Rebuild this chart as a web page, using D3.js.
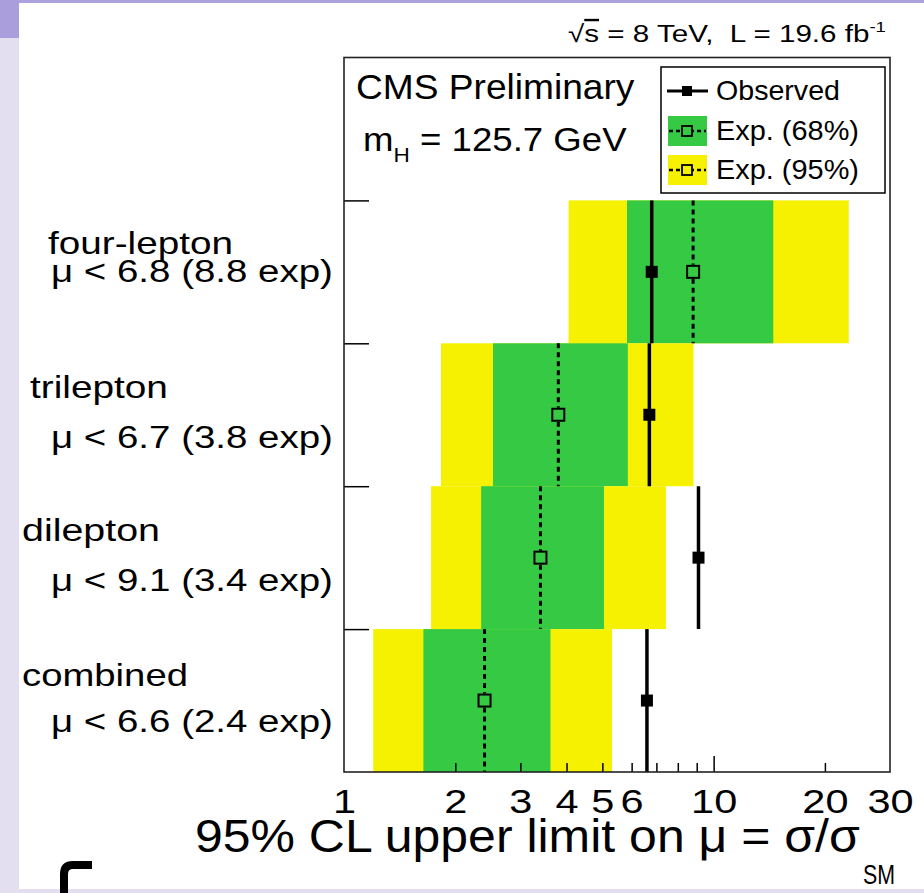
<!DOCTYPE html>
<html>
<head>
<meta charset="utf-8">
<script src="https://cdn.jsdelivr.net/npm/d3@7"></script>
<style>
  html, body { margin: 0; padding: 0; background: #e3dfef; overflow: hidden; }
  svg { display: block; }
</style>
</head>
<body>
<svg id="chart" width="924" height="893"></svg>
<script>
// ---- data ----
const channels  = ["four-lepton", "trilepton", "dilepton", "combined"];
const observed  = [6.8, 6.7, 9.1, 6.6];
const expected  = [8.8, 3.8, 3.4, 2.4];
const exp68Lo   = [5.83, 2.53, 2.35, 1.64];
const exp68Hi   = [14.5, 5.86, 5.05, 3.62];
const exp95Lo   = [4.05, 1.83, 1.72, 1.20];
const exp95Hi   = [23.2, 8.82, 7.43, 5.31];
const xMinorTicks = [2, 3, 4, 5, 6, 7, 8, 9, 20];
const xMajorTicks = [10];
const xTickLabels = [1, 2, 3, 4, 5, 6, 10, 20, 30];
const legendItems = ["Observed", "Exp. (68%)", "Exp. (95%)"];

// ---- layout / style ----
const W = 924, H = 893;
const FONT = "'Liberation Sans', Arial, Helvetica, sans-serif";
const GREEN = "#36c944", YELLOW = "#f6f100";
const frame = { left: 344, right: 890, top: 57.5, bottom: 772 };
// channel label placement: left edge and width of each line, dy from row centre
const nameX = [48, 30, 22, 22];
const nameW = [185, 138, 138, 166];
const nameDy = [-18, -17, -17, -15];
const limitX = 51, limitW = 282;
const limitDy = [10, 33, 33, 31];

const svg = d3.select("#chart");

// slide backdrop
svg.append("rect").attr("width", W).attr("height", H).attr("fill", "#e3dff0");
svg.append("rect").attr("width", W).attr("height", 3).attr("fill", "#ada1de");
svg.append("rect").attr("width", 19).attr("height", 38).attr("fill", "#aa9edc");
svg.append("rect").attr("x", 19).attr("y", 3).attr("width", W - 19).attr("height", 886).attr("fill", "#ffffff");
svg.append("path")
  .attr("d", "M64,893 L64,874 Q64,865 73,865 L92,865")
  .attr("fill", "none").attr("stroke", "#000").attr("stroke-width", 8);

// scales
const x = d3.scaleLog().domain([1, 30]).range([frame.left, frame.right]);
const y = d3.scaleLinear().domain([0, 5]).range([frame.bottom, frame.top]);
const rowOf = i => channels.length - 1 - i;

// text placed with its left edge at px and stretched horizontally to the given width
function fitText(parent, px, py, size, width, build) {
  const t = parent.append("text")
    .attr("font-family", FONT).attr("font-size", size).attr("fill", "#000")
    .attr("xml:space", "preserve");
  build(t);
  const w = t.node().getBBox().width;
  t.attr("transform", `translate(${px},${py}) scale(${width / w},1)`);
  return t;
}

const plot = svg.append("g");

// expected bands
channels.forEach((c, i) => {
  const r = rowOf(i);
  plot.append("rect")
    .attr("x", x(exp95Lo[i])).attr("width", x(exp95Hi[i]) - x(exp95Lo[i]))
    .attr("y", y(r + 1)).attr("height", y(r) - y(r + 1))
    .attr("fill", YELLOW);
  plot.append("rect")
    .attr("x", x(exp68Lo[i])).attr("width", x(exp68Hi[i]) - x(exp68Lo[i]))
    .attr("y", y(r + 1)).attr("height", y(r) - y(r + 1))
    .attr("fill", GREEN);
});

// expected median: dashed line with open square
const openHalf = 7;
channels.forEach((c, i) => {
  const r = rowOf(i), cx = x(expected[i]), cy = y(r + 0.5);
  plot.append("line")
    .attr("x1", cx).attr("x2", cx).attr("y1", y(r + 1)).attr("y2", cy - openHalf)
    .attr("stroke", "#000").attr("stroke-width", 3).attr("stroke-dasharray", "5,4");
  plot.append("line")
    .attr("x1", cx).attr("x2", cx).attr("y1", cy + openHalf).attr("y2", y(r))
    .attr("stroke", "#000").attr("stroke-width", 3).attr("stroke-dasharray", "5,4");
  plot.append("rect")
    .attr("x", cx - openHalf + 1).attr("y", cy - openHalf + 1)
    .attr("width", 2 * openHalf - 2).attr("height", 2 * openHalf - 2)
    .attr("fill", "none").attr("stroke", "#000").attr("stroke-width", 2);
});

// observed: solid line with filled square
channels.forEach((c, i) => {
  const r = rowOf(i), cx = x(observed[i]), cy = y(r + 0.5);
  plot.append("line")
    .attr("x1", cx).attr("x2", cx).attr("y1", y(r + 1)).attr("y2", y(r))
    .attr("stroke", "#000").attr("stroke-width", 3.5);
  plot.append("rect")
    .attr("x", cx - 6).attr("y", cy - 6).attr("width", 12).attr("height", 12)
    .attr("fill", "#000");
});

// axes (ticks drawn inward)
const gx = svg.append("g").attr("transform", `translate(0,${frame.bottom})`);
gx.call(d3.axisBottom(x).tickValues(xMinorTicks).tickSize(-9).tickFormat(""));
const gx2 = svg.append("g").attr("transform", `translate(0,${frame.bottom})`);
gx2.call(d3.axisBottom(x).tickValues(xMajorTicks).tickSize(-16).tickFormat(""));
const gxl = svg.append("g").attr("transform", `translate(0,${frame.bottom})`);
gxl.call(d3.axisBottom(x).tickValues(xTickLabels).tickSize(0).tickPadding(0).tickFormat(d3.format("d")));
gxl.selectAll("text")
  .attr("font-family", FONT).attr("font-size", 34).attr("fill", "#000")
  .attr("y", 41).attr("dy", null)
  .attr("transform", "scale(1.22,1)");
const gy = svg.append("g").attr("transform", `translate(${frame.left},0)`);
gy.call(d3.axisLeft(y).tickValues([1, 2, 3, 4]).tickSize(-25).tickFormat(""));
[gx, gx2, gxl, gy].forEach(g => {
  g.select(".domain").remove();
  g.selectAll("line").attr("stroke", "#000").attr("stroke-width", 1.5);
});

// frame
svg.append("rect")
  .attr("x", frame.left).attr("y", frame.top)
  .attr("width", frame.right - frame.left).attr("height", frame.bottom - frame.top)
  .attr("fill", "none").attr("stroke", "#222").attr("stroke-width", 1.6);

// channel labels
channels.forEach((c, i) => {
  const r = rowOf(i), cy = y(r + 0.5);
  fitText(svg, nameX[i], cy + nameDy[i], 31, nameW[i], t => t.text(c));
  fitText(svg, limitX, cy + limitDy[i], 31, limitW,
    t => t.text(`\u03bc < ${observed[i].toFixed(1)} (${expected[i].toFixed(1)} exp)`));
});

// x title
fitText(svg, 195, 852, 46, 665, t => t.text("95% CL upper limit on \u03bc = \u03c3/\u03c3"));
fitText(svg, 863, 884, 27, 32, t => t.text("SM"));

// energy / luminosity
fitText(svg, 568, 42, 24, 318, t => {
  t.append("tspan").text("\u221a");
  t.append("tspan").attr("text-decoration", "overline").text("s");
  t.append("tspan").text(" = 8 TeV,  L = 19.6 fb");
  t.append("tspan").attr("font-size", 15).attr("dy", -10).text("-1");
});

// header texts
fitText(svg, 356, 99, 35, 279, t => t.text("CMS Preliminary"));
fitText(svg, 363, 151, 34, 264, t => {
  t.append("tspan").text("m");
  t.append("tspan").attr("font-size", 21).attr("dy", 11).text("H");
  t.append("tspan").attr("dy", -11).text(" = 125.7 GeV");
});

// legend
const lg = svg.append("g");
lg.append("rect").attr("x", 661).attr("y", 67).attr("width", 224).attr("height", 126)
  .attr("fill", "#fff").attr("stroke", "#000").attr("stroke-width", 1.5);
const entryY = [91, 131, 170];
const entryW = [124, 143, 143];
const swatch = [null, GREEN, YELLOW];
legendItems.forEach((t, k) => {
  const cy = entryY[k];
  if (swatch[k]) {
    lg.append("rect").attr("x", 668).attr("y", cy - 15).attr("width", 39).attr("height", 30).attr("fill", swatch[k]);
    lg.append("line").attr("x1", 669).attr("x2", 706).attr("y1", cy).attr("y2", cy)
      .attr("stroke", "#000").attr("stroke-width", 2.5).attr("stroke-dasharray", "4,3");
    lg.append("rect").attr("x", 682).attr("y", cy - 5).attr("width", 10).attr("height", 10)
      .attr("fill", swatch[k]).attr("stroke", "#000").attr("stroke-width", 1.8);
  } else {
    lg.append("line").attr("x1", 667).attr("x2", 708).attr("y1", cy).attr("y2", cy)
      .attr("stroke", "#000").attr("stroke-width", 3);
    lg.append("rect").attr("x", 682).attr("y", cy - 5).attr("width", 10).attr("height", 10).attr("fill", "#000");
  }
  fitText(lg, 716, cy + 9, 27, entryW[k], s => s.text(t));
});
</script>
</body>
</html>
